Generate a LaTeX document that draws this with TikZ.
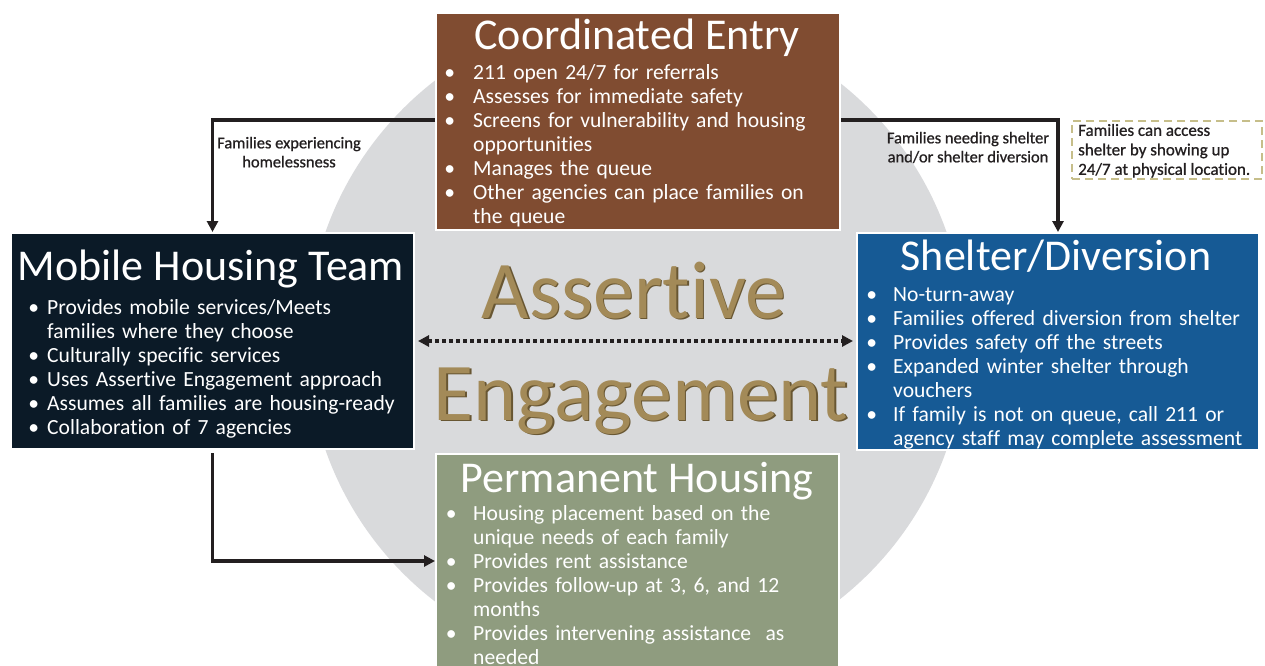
\documentclass[tikz,border=0pt]{standalone}
\usepackage{fontspec}
\setmainfont{Carlito}[Ligatures={NoCommon,NoContextual}]
\newfontfamily\labfont{Carlito}[Ligatures={NoCommon,NoContextual},FakeBold=0.8]
\usetikzlibrary{arrows.meta}
\definecolor{cebrown}{RGB}{128,76,49}
\definecolor{mhnavy}{RGB}{11,26,39}
\definecolor{sdblue}{RGB}{22,90,149}
\definecolor{phsage}{RGB}{143,156,127}
\definecolor{circgray}{RGB}{217,218,220}
\definecolor{linec}{RGB}{35,31,32}
\definecolor{dashk}{RGB}{198,190,138}
\definecolor{gold}{RGB}{163,138,88}
\definecolor{golddark}{RGB}{104,86,50}
\newcommand{\bitem}[2]{\par\noindent\strut\llap{\makebox[#1][c]{•}}#2}
\begin{document}
\begin{tikzpicture}[x=1pt,y=-1pt,
  box/.style={draw=white, line width=2pt, anchor=north west, inner sep=0pt},
  ttl/.style={text=white, font=\fontsize{44}{50}\selectfont, anchor=base, inner sep=0pt},
  lst/.style={text=white, font=\fontsize{21.6}{24}\selectfont, anchor=north west, inner sep=0pt, text width=420pt, align=left},
  arr/.style={draw=linec, line width=3.4pt, -{Triangle[length=11pt,width=11pt]}},
  dotarr/.style={draw=linec, line width=3.2pt, dash pattern=on 3.2pt off 3.8pt, {Triangle[length=11pt,width=11pt]}-{Triangle[length=11pt,width=11pt]}},
  lab/.style={font=\labfont\fontsize{16.5}{19}\selectfont, text=linec, align=center, anchor=north, inner sep=0pt},
  big/.style={font=\fontsize{82}{90}\selectfont, anchor=base, inner sep=0pt}
]
\useasboundingbox (0,0) rectangle (1265,665);
\begin{scope}
\clip (0,0) rectangle (1265,665);
\fill[white] (0,0) rectangle (1265,665);
\fill[circgray] (636,341) circle[radius=329pt];

% big center text
\node[big, text=golddark] (a1s) at (635.5,319.5) {Assertive};
\node[big, text=gold] (a1) at (634,318) {Assertive};
\node[big, text=golddark] (a2s) at (642.5,421.5) {Engagement};
\node[big, text=gold] (a2) at (641,420) {Engagement};

% boxes
\node[box, fill=cebrown, minimum width=404pt, minimum height=217pt] (ce) at (435,12) {};
\node[box, fill=mhnavy, minimum width=403pt, minimum height=216pt] (mht) at (10,232) {};
\node[box, fill=sdblue, minimum width=402pt, minimum height=217pt] (sd) at (856,232) {};
\node[box, fill=phsage, minimum width=403pt, minimum height=260pt] (ph) at (435,453) {};

% titles
\node[ttl] (cet) at (637,49) {Coordinated Entry};
\node[ttl] (mhtt) at (211,280) {Mobile Housing Team};
\node[ttl] (sdt) at (1056,270) {Shelter/Diversion};
\node[ttl] (pht) at (637,492) {Permanent Housing};

% lists
\node[lst] (cel) at (473,55) {%
\bitem{47pt}{211 open 24/7 for referrals}%
\bitem{47pt}{Assesses for immediate safety}%
\bitem{47pt}{Screens for vulnerability and housing\\opportunities}%
\bitem{47pt}{Manages the queue}%
\bitem{47pt}{Other agencies can place families on\\the queue}};
\node[lst] (mhl) at (47,290) {%
\bitem{27pt}{Provides mobile services/Meets\\families where they choose}%
\bitem{27pt}{Culturally specific services}%
\bitem{27pt}{Uses Assertive Engagement approach}%
\bitem{27pt}{Assumes all families are housing-ready}%
\bitem{27pt}{Collaboration of 7 agencies}};
\node[lst] (sdl) at (893,277) {%
\bitem{43pt}{No-turn-away}%
\bitem{43pt}{Families offered diversion from shelter}%
\bitem{43pt}{Provides safety off the streets}%
\bitem{43pt}{Expanded winter shelter through\\vouchers}%
\bitem{43pt}{If family is not on queue, call 211 or\\agency staff may complete assessment}};
\node[lst] (phl) at (473,496) {%
\bitem{44pt}{Housing placement based on the\\unique needs of each family}%
\bitem{44pt}{Provides rent assistance}%
\bitem{44pt}{Provides follow-up at 3, 6, and 12\\months}%
\bitem{44pt}{Provides intervening assistance\ \ as\\needed}};

% connectors
\coordinate (yt) at (0,120);
\coordinate (yb) at (0,561);
\coordinate (ym) at (0,341);
\draw[arr] (ce.west |- yt) -| (mht.north);
\draw[arr] (ce.east |- yt) -| (sd.north);
\draw[arr] ([yshift=-3pt]mht.south) |- (ph.west |- yb);
\draw[dotarr, shorten <=3pt, shorten >=3pt] (mht.east |- ym) -- (sd.west |- ym);

% labels
\node[lab] (l1) at (289,136.7) {Families experiencing\\homelessness};
\node[lab] (l2) at (968,131.7) {Families needing shelter\\and/or shelter diversion};
\node[draw=dashk, line width=2pt, dash pattern=on 8pt off 5pt, anchor=north west, minimum width=190pt, minimum height=58pt, inner sep=0pt] (nb) at (1071,120) {};
\node[font=\labfont\fontsize{17}{19.5}\selectfont, text=linec, align=left, anchor=north west, inner sep=0pt] (nt) at (1078,122) {\strut Families can access\\shelter by showing up\\24/7 at physical location.};
\end{scope}
\end{tikzpicture}
\end{document}
